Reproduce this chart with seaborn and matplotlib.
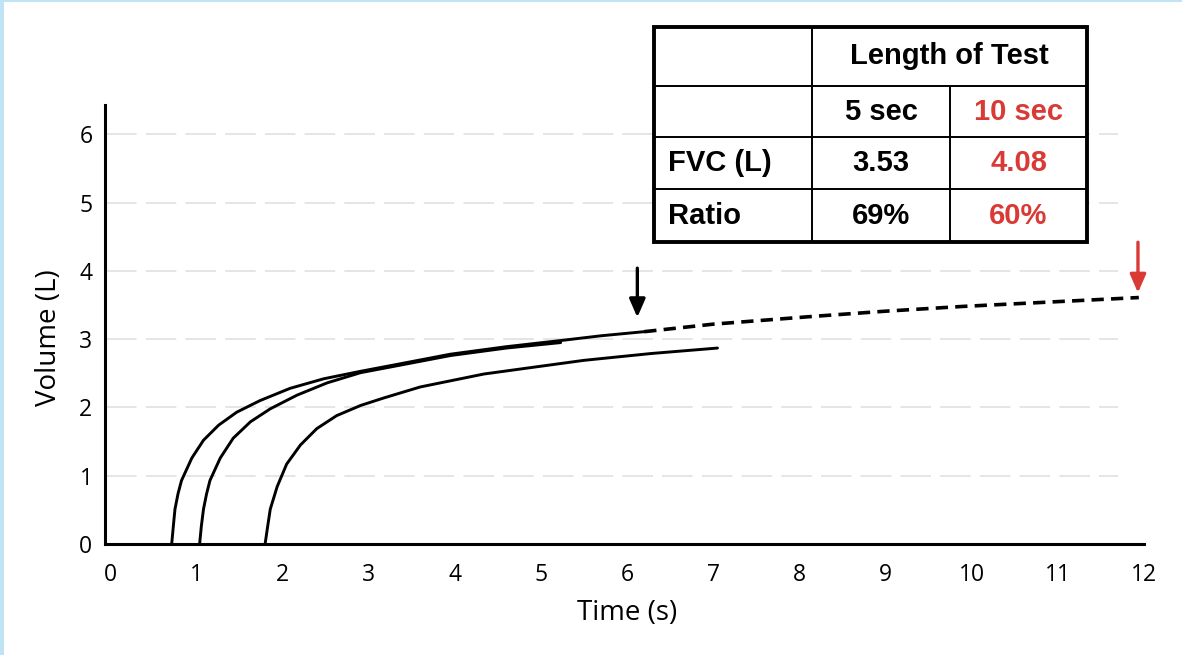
import numpy as np
import pandas as pd
import matplotlib
matplotlib.use("Agg")
import matplotlib.pyplot as plt
from matplotlib.patches import Rectangle
import seaborn as sns

# spirometry traces (time in s, volume in L)
time_a = [0.716, 0.735, 0.754, 0.79, 0.83, 0.95, 1.085, 1.26, 1.47, 1.74, 2.09, 2.48, 2.91, 3.37, 3.95, 4.60, 5.23, 5.70, 6.20]
vol_a = [0.00, 0.26, 0.51, 0.74, 0.93, 1.26, 1.52, 1.74, 1.93, 2.10, 2.28, 2.42, 2.53, 2.64, 2.78, 2.89, 2.98, 3.05, 3.11]
time_b = [1.04, 1.06, 1.085, 1.12, 1.16, 1.28, 1.43, 1.63, 1.86, 2.17, 2.52, 2.91, 3.37, 3.95, 4.60, 5.23]
vol_b = [0.00, 0.26, 0.51, 0.73, 0.93, 1.26, 1.55, 1.79, 1.98, 2.18, 2.36, 2.51, 2.62, 2.76, 2.87, 2.95]
time_c = [1.80, 1.83, 1.86, 1.94, 2.05, 2.21, 2.40, 2.63, 2.91, 3.18, 3.60, 4.34, 5.50, 6.28, 7.05]
vol_c = [0.00, 0.26, 0.51, 0.84, 1.17, 1.45, 1.69, 1.88, 2.03, 2.14, 2.30, 2.49, 2.69, 2.79, 2.87]
# extrapolated part of the top trace
time_ext = [6.20, 7.00, 8.12, 9.00, 9.90, 11.00, 11.94]
vol_ext = [3.11, 3.22, 3.33, 3.41, 3.48, 3.55, 3.61]

# end-of-test markers
arrow_t = [6.12, 11.93]
arrow_from = [4.04, 4.42]
arrow_to = [3.32, 3.68]
arrow_col = ["black", "#d93a35"]

x_ticks = list(range(0, 13))
y_ticks = [0, 1, 2, 3, 4, 5, 6]
grid_levels = [1, 2, 3, 4, 5, 6]

# table contents
tab_header = "Length of Test"
tab_cols = ["5 sec", "10 sec"]
tab_rows = ["FVC (L)", "Ratio"]
tab_5s = ["3.53", "69%"]
tab_10s = ["4.08", "60%"]

sns.set_style("white")
plt.rcParams["font.family"] = ["Open Sans", "DejaVu Sans"]
plt.rcParams["text.color"] = "black"

W, H = 1182, 655
fig = plt.figure(figsize=(W / 100, H / 100), dpi=100)
fig.patch.set_facecolor("#bfe5f5")
fig.add_artist(Rectangle((4 / W, 0), 1, 1 - 2 / H, transform=fig.transFigure,
                         facecolor="white", edgecolor="none", zorder=-10))

ax = fig.add_axes([105 / W, (H - 544) / H, (1144 - 105) / W, (544 - 105) / H])
ax.set_facecolor("none")

ax.hlines(grid_levels, -0.05, 11.7, colors="#dedede", linewidth=1.1,
          linestyles=(0, (20, 6)), zorder=0)

for t, v in [(time_a, vol_a), (time_b, vol_b), (time_c, vol_c)]:
    sns.lineplot(x=t, y=v, ax=ax, color="black", linewidth=2.1,
                 sort=False, estimator=None, solid_joinstyle="round")
sns.lineplot(x=time_ext, y=vol_ext, ax=ax, color="black", linewidth=2.6,
             sort=False, estimator=None, linestyle=(0, (3.4, 2.0)))

for t, y0, y1, c in zip(arrow_t, arrow_from, arrow_to, arrow_col):
    ax.annotate("", xy=(t, y1), xytext=(t, y0),
                arrowprops=dict(arrowstyle="-|>,head_length=0.55,head_width=0.24",
                                mutation_scale=20, color=c, lw=2.4,
                                shrinkA=0, shrinkB=0))

ax.set_xlim(-0.058, 12)
ax.set_ylim(0, 6.43)
ax.set_xticks(x_ticks)
ax.set_yticks(y_ticks)
for s in ["top", "right"]:
    ax.spines[s].set_visible(False)
for s in ["left", "bottom"]:
    ax.spines[s].set_linewidth(2.2)
    ax.spines[s].set_color("black")
ax.tick_params(axis="x", direction="out", length=6, width=1.6, pad=8,
               labelsize=16.5, colors="black")
ax.tick_params(axis="y", length=0, pad=9, labelsize=16.5, colors="black")
ax.set_xlabel("Time (s)", fontsize=20, color="black")
ax.set_ylabel("Volume (L)", fontsize=20, color="black")
ax.xaxis.set_label_coords(0.503, -0.125)
ax.yaxis.set_label_coords(-0.04, 0.47)

# table drawn in its own axes
tx0, tx1, ty0, ty1 = 654, 1087, 27, 242
tab = fig.add_axes([tx0 / W, (H - ty1) / H, (tx1 - tx0) / W, (ty1 - ty0) / H])
tab.set_xlim(0, 1)
tab.set_ylim(1, 0)
tab.axis("off")
tab.add_patch(Rectangle((0, 0), 1, 1, facecolor="white", edgecolor="black",
                        linewidth=2.8, clip_on=False))
cx = [(812 - tx0) / (tx1 - tx0), (950 - tx0) / (tx1 - tx0)]
ry = [(86 - ty0) / (ty1 - ty0), (137 - ty0) / (ty1 - ty0), (189 - ty0) / (ty1 - ty0)]
tab.plot([cx[0], cx[0]], [0, 1], color="black", lw=1.4)
tab.plot([cx[1], cx[1]], [ry[0], 1], color="black", lw=1.4)
for r in ry:
    tab.plot([0, 1], [r, r], color="black", lw=1.4)

red = "#d93a35"
tfont = dict(family=["Liberation Sans", "DejaVu Sans"], fontweight="bold", fontsize=21)
rc = [ry[0] / 2, (ry[0] + ry[1]) / 2, (ry[1] + ry[2]) / 2, (ry[2] + 1) / 2]
c2 = (cx[0] + cx[1]) / 2
c3 = (cx[1] + 1) / 2
tab.text((cx[0] + 1) / 2, rc[0], tab_header, ha="center", va="center", color="black", **tfont)
tab.text(c2, rc[1], tab_cols[0], ha="center", va="center", color="black", **tfont)
tab.text(c3, rc[1], tab_cols[1], ha="center", va="center", color=red, **tfont)
for i in range(len(tab_rows)):
    tab.text(0.032, rc[2 + i], tab_rows[i], ha="left", va="center", color="black", **tfont)
    tab.text(c2, rc[2 + i], tab_5s[i], ha="center", va="center", color="black", **tfont)
    tab.text(c3, rc[2 + i], tab_10s[i], ha="center", va="center", color=red, **tfont)

fig.savefig("out.png", dpi=100)
